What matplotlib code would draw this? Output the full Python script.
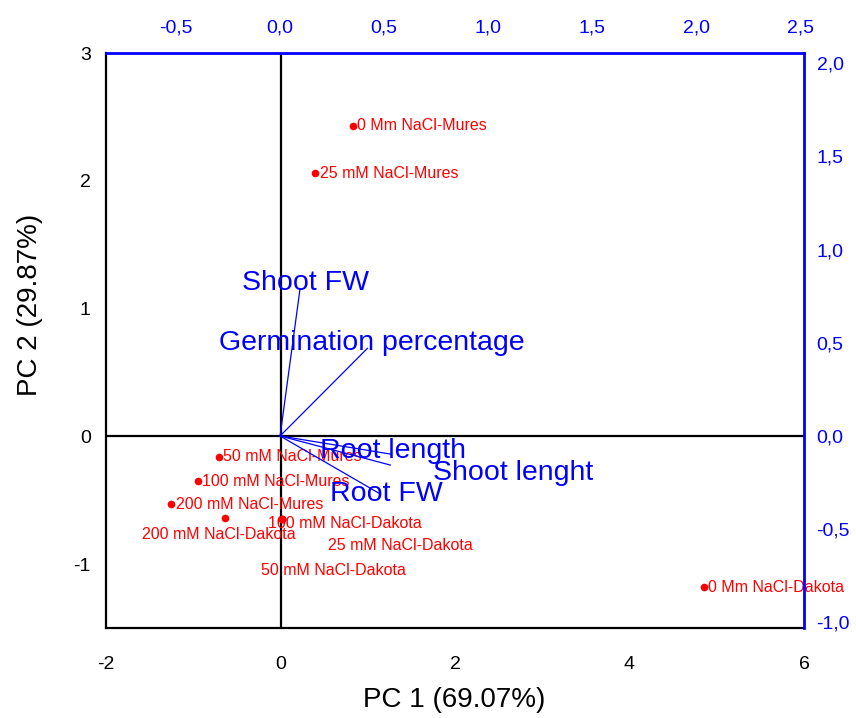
import matplotlib.pyplot as plt
from matplotlib.ticker import FuncFormatter

plt.rcParams['font.family'] = ['Liberation Sans', 'DejaVu Sans']
plt.rcParams['axes.unicode_minus'] = False

# scores (PC1, PC2) - bottom/left axes
samples = ["0 Mm NaCl-Mures", "25 mM NaCl-Mures", "50 mM NaCl-Mures",
           "100 mM NaCl-Mures", "200 mM NaCl-Mures", "200 mM NaCl-Dakota",
           "100 mM NaCl-Dakota", "25 mM NaCl-Dakota", "50 mM NaCl-Dakota",
           "0 Mm NaCl-Dakota"]
pc1 = [0.83, 0.40, -0.71, -0.95, -1.25, -0.64, 0.02, 0.02, 0.02, 4.85]
pc2 = [2.43, 2.06, -0.16, -0.35, -0.53, -0.64, -0.65, -0.65, -0.65, -1.18]

# loadings - top/right axes
variables = ["Shoot FW", "Germination percentage", "Root length",
             "Shoot lenght", "Root FW"]
load1 = [0.096, 0.42, 0.53, 0.53, 0.48]
load2 = [0.79, 0.47, -0.097, -0.156, -0.31]

# label placement (offsets in points, alignment)
sample_offsets = [(3, 0, "left"), (3, 0, "left"), (3, 0, "left"),
                  (3, 0, "left"), (3, 0, "left"), (-4, -12, "center"),
                  (-10, -3, "left"), (33, -19, "left"), (-15, -37, "left"),
                  (3, 0, "left")]
var_offsets = [(4, 4, "center"), (3, 4, "center"), (2, 2, "center"),
               (31, -6, "left"), (5, 0, "center")]

red = "#FF0000"
blue = "#0000FF"

fig = plt.figure(figsize=(8.56, 7.18), dpi=100)
rect = [106 / 856, 90 / 718, 698 / 856, 575 / 718]
ax = fig.add_axes(rect)
ax2 = fig.add_axes(rect, frameon=True)
ax2.patch.set_visible(False)

# primary axes: scores
ax.set_xlim(-2, 6)
ax.set_ylim(-1.5, 3)
ax.axhline(0, color="black", lw=1.6, zorder=1)
ax.axvline(0, color="black", lw=1.6, zorder=1)
ax.plot(pc1, pc2, "o", color=red, ms=4.5, ls="none", zorder=3)
for name, x, y, (dx, dy, ha) in zip(samples, pc1, pc2, sample_offsets):
    ax.annotate(name, (x, y), xytext=(dx, dy), textcoords="offset points",
                ha=ha, va="center", color=red, fontsize=11.5)

ax.set_xticks([-2, 0, 2, 4, 6])
ax.set_yticks([-1, 0, 1, 2, 3])
ax.tick_params(axis="x", length=0, pad=20, labelsize=14)
ax.tick_params(axis="y", length=0, pad=11, labelsize=14)
for s in ["left", "bottom"]:
    ax.spines[s].set_linewidth(1.6)
for s in ["top", "right"]:
    ax.spines[s].set_visible(False)

# secondary axes: loadings
ax2.set_xlim(-0.837, 2.519)
ax2.set_ylim(-1.03, 2.054)
for lx, ly in zip(load1, load2):
    ax2.plot([0, lx], [0, ly], color=blue, lw=0.9)
for name, lx, ly, (dx, dy, ha) in zip(variables, load1, load2, var_offsets):
    ax2.annotate(name, (lx, ly), xytext=(dx, dy), textcoords="offset points",
                 ha=ha, va="center", color=blue, fontsize=20.5)

ax2.xaxis.tick_top()
ax2.yaxis.tick_right()
ax2.set_xticks([-0.5, 0, 0.5, 1.0, 1.5, 2.0, 2.5])
ax2.set_yticks([-1.0, -0.5, 0, 0.5, 1.0, 1.5, 2.0])
comma = FuncFormatter(lambda v, p: f"{v:.1f}".replace(".", ","))
ax2.xaxis.set_major_formatter(comma)
ax2.yaxis.set_major_formatter(comma)
ax2.tick_params(axis="x", length=0, pad=12, labelsize=14, labelcolor=blue)
ax2.tick_params(axis="y", length=0, pad=9, labelsize=14, labelcolor=blue)
ax2.spines["left"].set_visible(False)
ax2.spines["bottom"].set_visible(False)
for s in ["top", "right"]:
    ax2.spines[s].set_color(blue)
    ax2.spines[s].set_linewidth(2)

fig.text(454 / 856, 1 - 700 / 718, "PC 1 (69.07%)", ha="center", va="center",
         fontsize=20)
fig.text(30 / 856, 1 - 305 / 718, "PC 2 (29.87%)", ha="center", va="center",
         rotation=90, fontsize=20)

fig.savefig("out.png", dpi=100)
